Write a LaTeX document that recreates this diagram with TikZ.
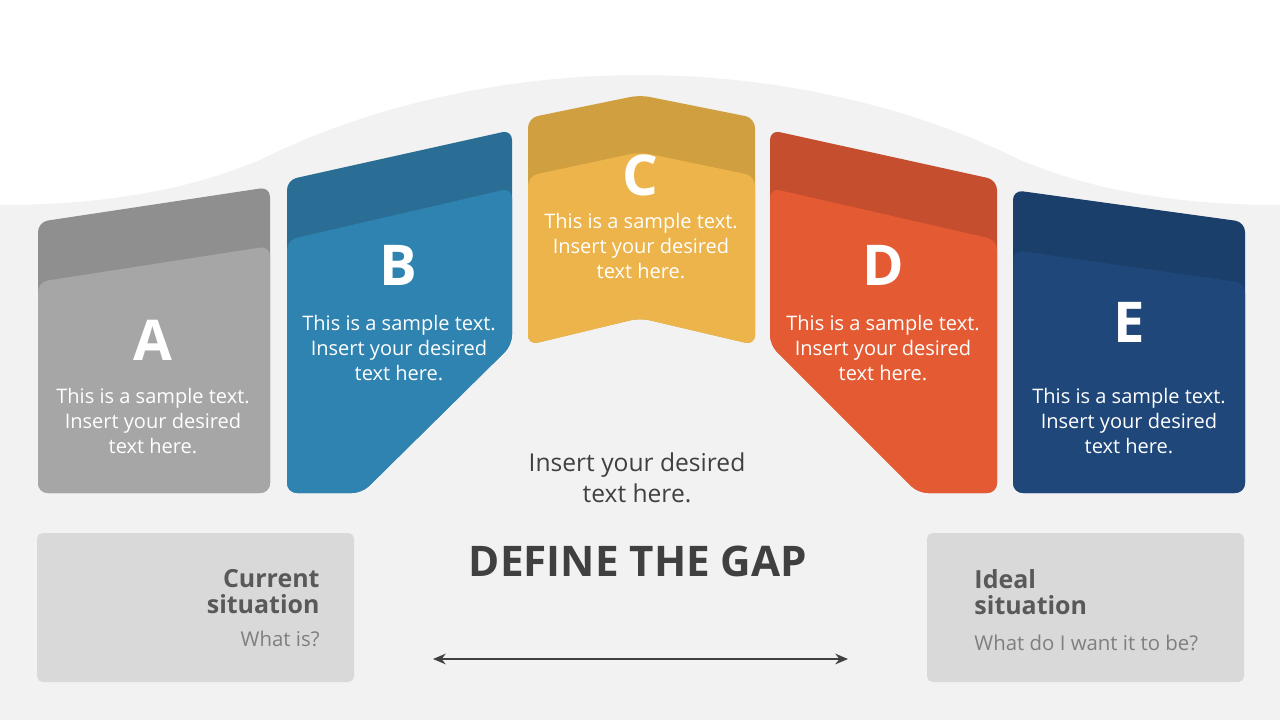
\documentclass[tikz,border=0pt]{standalone}
\usepackage{fontspec}
\setmainfont{Open Sans}
\usetikzlibrary{positioning}
\usetikzlibrary{arrows.meta}
\definecolor{bggray}{HTML}{F2F2F2}
\definecolor{boxgray}{HTML}{D9D9D9}
\definecolor{txtdark}{HTML}{404040}
\definecolor{txtmid}{HTML}{595959}
\definecolor{txtlight}{HTML}{7F7F7F}
\definecolor{abk}{HTML}{8F8F8F}\definecolor{afr}{HTML}{A6A6A6}
\definecolor{bbk}{HTML}{2A6E96}\definecolor{bfr}{HTML}{2E83B0}
\definecolor{cbk}{HTML}{CF9F40}\definecolor{cfr}{HTML}{ECB44A}
\definecolor{dbk}{HTML}{C44E2E}\definecolor{dfr}{HTML}{E45A32}
\definecolor{ebk}{HTML}{1B3F6B}\definecolor{efr}{HTML}{1F477A}
\tikzset{
  panel/.style={rounded corners=14pt},
  letter/.style={text=white, font=\fontsize{80}{80}\selectfont\bfseries},
  body/.style={text=white, align=center, font=\fontsize{28.5}{36}\selectfont},
  side/.style={font=\fontsize{35.5}{37}\selectfont\bfseries, text=txtmid},
  sub/.style={font=\fontsize{29}{36}\selectfont, text=txtlight}
}
\begin{document}
\begin{tikzpicture}[x=0.05cm,y=-0.05cm]
        % background %
        \fill[white] (0,0) rectangle (1280,720);
        \useasboundingbox (0,0) rectangle (1280,720);
        \fill[bggray] (0,205) .. controls (120,205) and (200,185) .. (260,160)
          .. controls (380,100) and (520,75) .. (640,75)
          .. controls (760,75) and (900,100) .. (1020,160)
          .. controls (1080,185) and (1160,205) .. (1280,205)
          -- (1280,720) -- (0,720) -- cycle;

        % panels %
        \fill[abk,panel] (38,222) -- (270,187) -- (270,493) -- (38,493) -- cycle;
        \fill[afr,panel] (38,282) -- (270,246) -- (270,493) -- (38,493) -- cycle;
        \fill[bbk,panel] (287,180) -- (512,130) -- (512,345) -- (362,493) -- (287,493) -- cycle;
        \fill[bfr,panel] (287,240) -- (512,188) -- (512,345) -- (362,493) -- (287,493) -- cycle;
        \fill[cbk,panel] (528,118) -- (640,95) -- (755,118) -- (755,345) -- (640,318) -- (528,345) -- cycle;
        \fill[cfr,panel] (528,176) -- (640,152) -- (755,176) -- (755,345) -- (640,318) -- (528,345) -- cycle;
        \fill[dbk,panel] (770,130) -- (997,180) -- (997,493) -- (918,493) -- (770,345) -- cycle;
        \fill[dfr,panel] (770,188) -- (997,240) -- (997,493) -- (918,493) -- (770,345) -- cycle;
        \fill[ebk,panel] (1013,190) -- (1245,222) -- (1245,493) -- (1013,493) -- cycle;
        \fill[efr,panel] (1013,250) -- (1245,283) -- (1245,493) -- (1013,493) -- cycle;

        % letters and texts %
        \node[letter] (la) at (153,340) {A};
        \node[letter] (lb) at (398,265) {B};
        \node[letter] (lc) at (640,175) {C};
        \node[letter] (ld) at (883,265) {D};
        \node[letter] (le) at (1129,322) {E};
        \node[body] (ta) at (153,421) {This is a sample text.\\Insert your desired\\text here.};
        \node[body] (tb) at (399,348) {This is a sample text.\\Insert your desired\\text here.};
        \node[body] (tc) at (641,246) {This is a sample text.\\Insert your desired\\text here.};
        \node[body] (td) at (883,348) {This is a sample text.\\Insert your desired\\text here.};
        \node[body] (te) at (1129,421) {This is a sample text.\\Insert your desired\\text here.};

        % middle %
        \node[align=center, text=txtdark, font=\fontsize{35}{45}\selectfont] (mid) at (637,478) {Insert your desired\\text here.};
        \node[text=txtdark, font=\fontsize{60}{60}\selectfont\bfseries] (gap) at (638,561) {DEFINE THE GAP};
        \coordinate (gl) at (433,659);
        \coordinate (gr) at (848,659);
        \draw[{Stealth[length=18pt,width=15pt]}-{Stealth[length=18pt,width=15pt]}, txtdark, line width=4pt] (gl) -- (gr);

        % side boxes %
        \fill[boxgray,rounded corners=8pt] (37,533) rectangle (354,682);
        \fill[boxgray,rounded corners=8pt] (927,533) rectangle (1244,682);
        \node[side, align=right, anchor=north east] (cur) at (322,567) {Current\\situation};
        \node[sub, anchor=east] (whatis) at (322,639) {What is?};
        \node[side, align=left, anchor=north west] (ide) at (972,567) {Ideal\\situation};
        \node[sub, anchor=west] (want) at (972,643) {What do I want it to be?};
\end{tikzpicture}
\end{document}
